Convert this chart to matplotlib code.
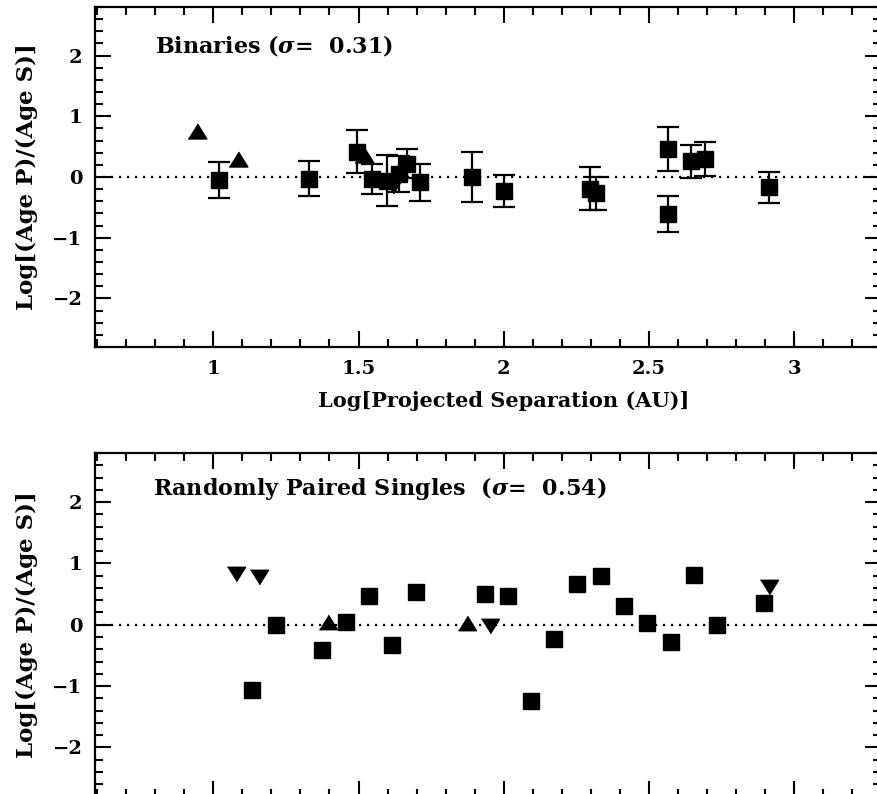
import numpy as np
import matplotlib
matplotlib.use("Agg")
import matplotlib.pyplot as plt

# Binaries (top panel)
bin_sq_x = [1.02, 1.33, 1.494, 1.545, 1.597, 1.64, 1.666, 1.711, 1.892,
            2.001, 2.296, 2.318, 2.565, 2.565, 2.645, 2.694, 2.914]
bin_sq_y = [-0.05, -0.03, 0.42, -0.03, -0.06, 0.05, 0.22, -0.09, 0.00,
            -0.23, -0.19, -0.27, 0.46, -0.61, 0.26, 0.30, -0.17]
bin_sq_err = [0.30, 0.29, 0.36, 0.25, 0.42, 0.30, 0.24, 0.31, 0.41,
              0.26, 0.35, 0.27, 0.36, 0.29, 0.27, 0.28, 0.26]
bin_up_x = [0.944, 1.085, 1.52]
bin_up_y = [0.76, 0.29, 0.36]
bin_dn_x = [1.62]
bin_dn_y = [-0.15]

# Randomly paired singles (bottom panel)
rnd_sq_x = [1.135, 1.215, 1.376, 1.456, 1.536, 1.616, 1.697, 1.935, 2.015,
            2.093, 2.173, 2.253, 2.333, 2.413, 2.494, 2.574, 2.654, 2.734, 2.897]
rnd_sq_y = [-1.06, 0.00, -0.41, 0.05, 0.47, -0.33, 0.54, 0.50, 0.47,
            -1.25, -0.24, 0.67, 0.79, 0.30, 0.03, -0.28, 0.81, 0.00, 0.35]
rnd_up_x = [1.394, 1.872]
rnd_up_y = [0.04, 0.03]
rnd_dn_x = [1.078, 1.156, 1.952, 2.914]
rnd_dn_y = [0.82, 0.78, -0.02, 0.61]

x_ticks = [1, 1.5, 2, 2.5, 3]
x_ticklabels = ["1", "1.5", "2", "2.5", "3"]
y_ticks = [-2, -1, 0, 1, 2]

plt.rcParams["font.family"] = "DejaVu Serif"
plt.rcParams["font.weight"] = "bold"
plt.rcParams["axes.labelweight"] = "bold"
plt.rcParams["mathtext.fontset"] = "dejavuserif"

tri_up = [(-1, -0.8), (1, -0.8), (0, 0.8)]
tri_dn = [(-1, 0.8), (1, 0.8), (0, -0.8)]

fig = plt.figure(figsize=(8.78, 7.94), dpi=100)
W, H = 878.0, 794.0
ax1 = fig.add_axes([95 / W, 1 - 347 / H, 786.5 / W, 340 / H])
ax2 = fig.add_axes([95 / W, 1 - 796.5 / H, 786.5 / W, 343.5 / H])


def style(ax, ylim):
    ax.set_xlim(0.593, 3.3)
    ax.set_ylim(*ylim)
    ax.axhline(0, color="black", lw=1.6, ls=(0, (1, 2.6)), zorder=1)
    ax.set_xticks(x_ticks)
    ax.set_xticklabels(x_ticklabels)
    ax.set_xticks(np.arange(0.6, 3.31, 0.1), minor=True)
    ax.set_yticks(y_ticks)
    ax.set_yticks(np.arange(-2.8, 2.81, 0.2), minor=True)
    ax.tick_params(which="both", direction="in", top=True, right=True,
                   width=1.5, labelsize=14, colors="black")
    ax.tick_params(which="major", length=11.5)
    ax.tick_params(which="minor", length=5.5)
    ax.tick_params(axis="y", pad=9)
    ax.tick_params(axis="x", pad=9)
    for s in ax.spines.values():
        s.set_linewidth(1.6)
    ax.set_ylabel("Log[(Age P)/(Age S)]", fontsize=16.5, labelpad=10)


style(ax1, (-2.72, 2.8))
style(ax2, (-2.8, 2.8))
ax2.tick_params(axis="x", labelbottom=False)

ax1.errorbar(bin_sq_x, bin_sq_y, yerr=bin_sq_err, fmt="s", color="black",
             ms=11.5, elinewidth=1.6, capsize=8, capthick=1.6, zorder=3)
ax1.plot(bin_up_x, bin_up_y, ls="none", marker=tri_up, ms=13.5,
         color="black", zorder=4)
ax1.plot(bin_dn_x, bin_dn_y, ls="none", marker=tri_dn, ms=13.5,
         color="black", zorder=4)
ax1.text(0.076, 0.865, "Binaries ($\\sigma$=  0.31)", transform=ax1.transAxes,
         fontsize=16, va="baseline", ha="left")
ax1.set_xlabel("Log[Projected Separation (AU)]", fontsize=15, labelpad=5)
ax1.xaxis.set_label_coords(0.52, -0.13)

ax2.plot(rnd_sq_x, rnd_sq_y, ls="none", marker="s", ms=11.5, color="black",
         zorder=3)
ax2.plot(rnd_up_x, rnd_up_y, ls="none", marker=tri_up, ms=13, color="black",
         zorder=4)
ax2.plot(rnd_dn_x, rnd_dn_y, ls="none", marker=tri_dn, ms=13, color="black",
         zorder=4)
ax2.text(0.074, 0.878, "Randomly Paired Singles  ($\\sigma$=  0.54)",
         transform=ax2.transAxes, fontsize=16, va="baseline", ha="left")

fig.savefig("out.png", dpi=100)
